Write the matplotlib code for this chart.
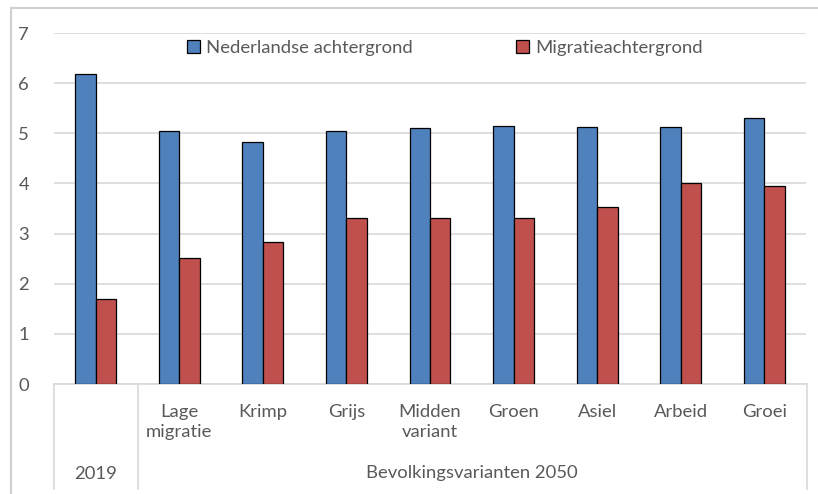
import numpy as np
import matplotlib.pyplot as plt
from matplotlib.lines import Line2D

# Gemiddeld aantal ... per achtergrond, 2019 en bevolkingsvarianten 2050
categories = ["", "Lage\nmigratie", "Krimp", "Grijs", "Midden\nvariant",
              "Groen", "Asiel", "Arbeid", "Groei"]
nederlands = [6.19, 5.05, 4.83, 5.05, 5.10, 5.14, 5.12, 5.12, 5.30]
migratie = [1.70, 2.51, 2.84, 3.32, 3.32, 3.32, 3.52, 4.00, 3.95]
groups = ["2019", "Bevolkingsvarianten 2050"]

W, H = 818, 494
BLUE = "#4F81BD"
RED = "#C0504D"
TEXT = "#595959"
GRID = "#D9D9D9"
FS = 13.3

plt.rcParams["font.family"] = ["Lato", "DejaVu Sans"]

fig = plt.figure(figsize=(W / 100, H / 100), dpi=100)
ax = fig.add_axes([54 / W, (H - 384) / H, (806 - 54) / W, (384 - 33) / H])

x = np.arange(len(categories))
w = 0.245
ax.bar(x - w / 2, nederlands, w, color=BLUE, edgecolor="black", linewidth=0.9,
       label="Nederlandse achtergrond", zorder=3)
ax.bar(x + w / 2, migratie, w, color=RED, edgecolor="black", linewidth=0.9,
       label="Migratieachtergrond", zorder=3)

ax.set_xlim(-0.5, len(categories) - 0.5)
ax.set_ylim(0, 7)
ax.set_yticks(range(0, 8))
ax.yaxis.grid(True, color=GRID, linewidth=1.2, zorder=0)
ax.tick_params(axis="y", length=0, pad=18, labelsize=FS, labelcolor=TEXT)
ax.set_xticks([])
for side in ["top", "right", "left"]:
    ax.spines[side].set_visible(False)
ax.spines["bottom"].set_color(GRID)
ax.spines["bottom"].set_linewidth(1.2)

# categorie-labels (eerste niveau)
tr = ax.get_xaxis_transform()
for xi, lab in zip(x, categories):
    ax.text(xi, -20 / 351, lab, transform=tr, ha="center", va="top",
            fontsize=FS, color=TEXT, linespacing=1.3)

# tweede niveau: jaar / varianten
ax.text(0, -90 / 351, groups[0], transform=tr, ha="center", va="center",
        fontsize=FS, color=TEXT)
ax.text((1 + len(categories) - 1) / 2, -89 / 351, groups[1], transform=tr,
        ha="center", va="center", fontsize=FS, color=TEXT)

# scheidingslijnen van de categorie-as
def fline(x0, y0, x1, y1, color=GRID, lw=1.2):
    fig.add_artist(Line2D([x0 / W, x1 / W], [1 - y0 / H, 1 - y1 / H],
                          transform=fig.transFigure, color=color, linewidth=lw))

fline(54, 384, 54, 489)
fline(138, 384, 138, 489)
fline(807, 384, 807, 489)

# kader rond de grafiek
fline(11, 8, 818, 8, color="#D0D0D0", lw=1.5)
fline(11, 8, 11, 494, color="#D0D0D0", lw=1.5)

leg = ax.legend(loc="center", bbox_to_anchor=(0.52, 1 - 15 / 351), ncol=2,
                frameon=False, fontsize=FS, handlelength=0.7, handleheight=0.7,
                handletextpad=0.35, columnspacing=5.6, labelcolor=TEXT)

fig.savefig("out.png", dpi=100, facecolor="white")
